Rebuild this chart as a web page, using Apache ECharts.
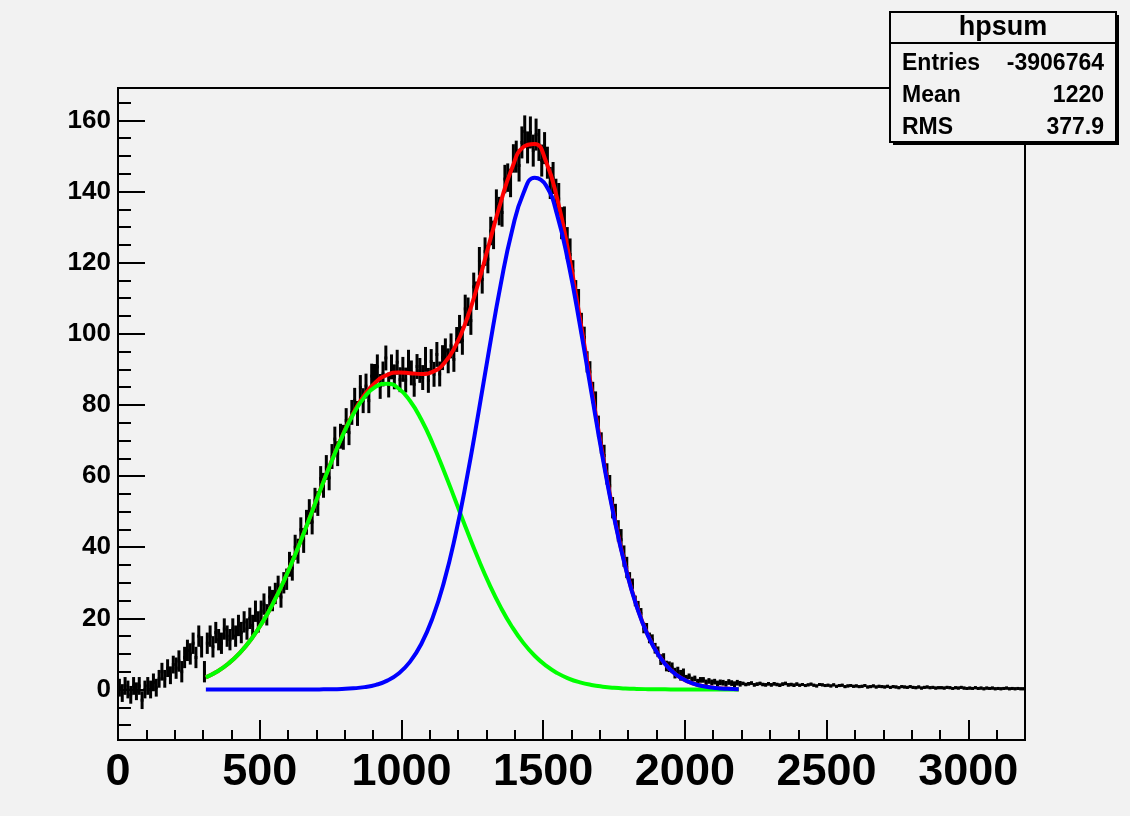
<!DOCTYPE html>
<html>
<head>
<meta charset="utf-8">
<script src="https://cdn.jsdelivr.net/npm/echarts@6/dist/echarts.min.js"></script>
<style>
html,body{margin:0;padding:0;background:#f2f2f2;}
#chart{width:1130px;height:816px;}
</style>
</head>
<body>
<div id="chart"></div>
<script>
// ---- histogram "hpsum": bins of width 10 starting at 0 ----
const BIN_START = 0;
const BIN_WIDTH = 10;
const COUNTS = [
0.5,-1.0,1.0,0.0,-1.5,1.0,-0.5,1.0,-3.0,0.0,
1.0,0.0,2.0,0.5,3.0,5.0,3.0,6.0,4.0,7.0,
6.0,8.0,5.0,9.0,11.0,10.0,13.0,9.0,15.0,12.0,
5.0,13.0,15.0,12.0,16.0,14.0,13.0,17.0,15.0,14.0,
17.0,15.0,18.0,16.0,19.0,17.0,20.0,18.0,22.0,19.0,
22.0,24.0,21.0,26.0,25.0,27.0,29.0,26.0,30.0,31.0,
35.2,34.1,40.0,38.9,44.9,41.9,47.0,50.0,47.1,53.2,
52.3,59.3,57.4,62.4,59.5,65.5,70.4,66.3,71.2,70.9,
75.6,72.2,77.9,81.3,77.6,84.9,81.2,85.3,81.2,88.1,
88.0,90.7,85.2,88.7,93.2,85.6,90.7,87.9,92.0,87.1,
90.0,87.0,92.0,89.0,85.8,90.8,89.7,87.7,92.8,86.9,
92.2,88.6,94.2,88.7,93.3,95.2,92.4,96.6,92.8,98.4,
101.3,98.1,107.0,106.2,103.7,113.2,110.7,120.4,115.3,123.1,
121.0,128.9,127.8,136.6,134.5,134.1,143.5,143.9,142.4,149.3,
149.8,147.3,153.8,156.9,152.4,156.6,151.5,156.0,153.1,148.7,
152.2,148.1,142.4,143.8,139.1,137.9,131.1,131.3,125.5,122.3,
117.7,112.1,109.6,102.9,99.0,92.1,89.3,83.5,80.8,74.0,
69.3,65.8,60.6,57.3,51.1,49.2,44.6,42.1,37.5,34.3,
31.5,29.7,24.9,23.4,21.4,17.3,17.2,14.5,14.0,11.6,
10.6,8.4,8.7,6.6,6.4,6.1,4.6,4.9,4.0,4.4,
3.3,3.7,2.8,3.1,2.2,2.7,2.7,2.0,2.4,2.0,
2.2,1.7,2.0,1.9,1.6,2.1,1.8,1.5,1.9,1.6,
1.7,1.4,1.6,1.8,1.3,1.5,1.7,1.4,1.3,1.6,
1.3,1.6,1.4,1.2,1.5,1.7,1.3,1.4,1.2,1.5,
1.2,1.4,1.1,1.3,1.5,1.2,1.0,1.4,1.3,1.1,
1.2,1.0,1.3,0.9,1.1,1.2,0.8,1.0,1.1,0.9,
1.0,0.8,0.9,1.1,0.7,0.8,1.0,0.7,0.9,0.8,
0.7,0.9,0.6,0.8,0.7,0.5,0.8,0.7,0.6,0.8,
0.6,0.5,0.7,0.4,0.6,0.7,0.5,0.6,0.4,0.5,
0.5,0.4,0.6,0.5,0.3,0.5,0.4,0.6,0.4,0.3,
0.4,0.3,0.5,0.3,0.4,0.2,0.4,0.3,0.4,0.2,
0.3,0.2,0.3,0.4,0.2,0.3,0.2,0.3,0.2,0.2
];
// bin errors, read per 200-unit block
const ERR_BLOCK = 200;
const ERRORS = [2.5,3.0,3.0,3.5,3.5,3.5,4.0,4.5,3.0,1.5,0.8,0.5,0.4,0.4,0.4,0.4];

// ---- fit curves (read at x = 310, 350, ..., 2190) ----
const CURVE_X = [310,350,390,430,470,510,550,590,630,670,710,750,790,830,870,910,950,990,1030,1070,1110,1150,1190,1230,1270,1310,1350,1390,1430,1470,1510,1550,1590,1630,1670,1710,1750,1790,1830,1870,1910,1950,1990,2030,2070,2110,2150,2190];
const RED = [3.41,5.06,7.32,10.30,14.14,18.93,24.68,31.38,38.88,46.97,55.32,63.51,71.11,77.69,82.88,86.47,88.47,89.12,88.94,88.69,89.30,91.64,96.44,103.96,113.94,125.44,136.92,146.56,152.53,153.38,148.42,137.81,122.57,104.30,84.84,65.95,48.95,34.69,23.48,15.17,9.36,5.51,3.09,1.66,0.85,0.41,0.19,0.09];
const GREEN = [3.41,5.06,7.32,10.30,14.14,18.93,24.68,31.38,38.88,46.96,55.29,63.45,70.96,77.37,82.22,85.16,85.98,84.62,81.17,75.89,69.17,61.45,53.21,44.90,36.94,29.62,23.15,17.64,13.10,9.48,6.69,4.60,3.08,2.01,1.28,0.80,0.48,0.28,0.16,0.09,0.05,0.03,0.01,0.01,0,0,0,0];
const BLUE = [0,0,0,0,0,0,0,0,0,0.01,0.03,0.06,0.15,0.32,0.66,1.31,2.49,4.50,7.77,12.80,20.13,30.19,43.23,59.06,77.00,95.82,113.77,128.92,139.43,143.90,141.73,133.21,119.49,102.29,83.56,65.15,48.47,34.41,23.32,15.08,9.31,5.48,3.08,1.65,0.85,0.41,0.19,0.09];

// ---- axes ----
const X_MIN = 0, X_MAX = 3200;
const Y_MIN = -14.2, Y_MAX = 169.1;
const X_MAJOR = [0,500,1000,1500,2000,2500,3000];
const X_MINOR = [0,100,200,300,400,500,600,700,800,900,1000,1100,1200,1300,1400,1500,1600,1700,1800,1900,2000,2100,2200,2300,2400,2500,2600,2700,2800,2900,3000,3100,3200];
const Y_MAJOR = [0,20,40,60,80,100,120,140,160];
const Y_MINOR = [-10,-5,0,5,10,15,20,25,30,35,40,45,50,55,60,65,70,75,80,85,90,95,100,105,110,115,120,125,130,135,140,145,150,155,160,165];

// ---- statistics box ----
const STATS_TITLE = 'hpsum';
const STATS_ROWS = [['Entries','-3906764'],['Mean','1220'],['RMS','377.9']];

const FONT = '"Liberation Sans", Arial, Helvetica, sans-serif';

const histData = COUNTS.map((v, i) => {
  const x0 = BIN_START + i * BIN_WIDTH;
  const x1 = x0 + BIN_WIDTH;
  const e = ERRORS[Math.min(ERRORS.length - 1, Math.floor(x0 / ERR_BLOCK))];
  return [x0, x1, v, e];
});
const pairs = arr => CURVE_X.map((x, i) => [x, arr[i]]);

const chart = echarts.init(document.getElementById('chart'), null, {renderer: 'canvas'});

const grid = {left: 118, top: 88, width: 907, height: 652, show: true, borderColor: '#000', borderWidth: 2, backgroundColor: 'transparent'};

const statsGraphics = [];
const bx = 890, by = 12, bw = 226, bh = 130;
statsGraphics.push({type: 'rect', shape: {x: bx + 3, y: by + 3, width: bw, height: bh}, style: {fill: '#000'}, z: 100});
statsGraphics.push({type: 'rect', shape: {x: bx, y: by, width: bw, height: bh}, style: {fill: '#f2f2f2', stroke: '#000', lineWidth: 2}, z: 101});
statsGraphics.push({type: 'line', shape: {x1: bx, y1: 43, x2: bx + bw, y2: 43}, style: {stroke: '#000', lineWidth: 2}, z: 102});
statsGraphics.push({type: 'text', x: bx + bw / 2, y: 28, style: {text: STATS_TITLE, fill: '#000', font: 'bold 27px ' + FONT, textAlign: 'center', textVerticalAlign: 'middle'}, z: 103});
STATS_ROWS.forEach((r, i) => {
  const y = 64 + i * 31.7;
  statsGraphics.push({type: 'text', x: 902, y: y, style: {text: r[0], fill: '#000', font: 'bold 23px ' + FONT, textAlign: 'left', textVerticalAlign: 'middle'}, z: 103});
  statsGraphics.push({type: 'text', x: 1104, y: y, style: {text: r[1], fill: '#000', font: 'bold 23px ' + FONT, textAlign: 'right', textVerticalAlign: 'middle'}, z: 103});
});

const plain = v => String(v);

const option = {
  backgroundColor: '#f2f2f2',
  animation: false,
  grid: grid,
  xAxis: [
    {
      type: 'value', min: X_MIN, max: X_MAX, position: 'bottom',
      axisLine: {show: true, onZero: false, lineStyle: {color: '#000', width: 2}},
      axisTick: {show: true, inside: true, length: 20, customValues: X_MAJOR, lineStyle: {color: '#000', width: 2}},
      axisLabel: {show: true, customValues: X_MAJOR, formatter: plain, margin: 10, color: '#000', fontSize: 45, fontWeight: 'bold', fontFamily: FONT},
      splitLine: {show: false}
    },
    {
      type: 'value', min: X_MIN, max: X_MAX, position: 'bottom',
      axisLine: {show: false, onZero: false},
      axisTick: {show: true, inside: true, length: 10, customValues: X_MINOR, lineStyle: {color: '#000', width: 2}},
      axisLabel: {show: false},
      splitLine: {show: false}
    }
  ],
  yAxis: [
    {
      type: 'value', min: Y_MIN, max: Y_MAX, position: 'left',
      axisLine: {show: true, onZero: false, lineStyle: {color: '#000', width: 2}},
      axisTick: {show: true, inside: true, length: 27, customValues: Y_MAJOR, lineStyle: {color: '#000', width: 2}},
      axisLabel: {show: true, customValues: Y_MAJOR, formatter: plain, margin: 7, color: '#000', fontSize: 26, fontWeight: 'bold', fontFamily: FONT},
      splitLine: {show: false}
    },
    {
      type: 'value', min: Y_MIN, max: Y_MAX, position: 'left',
      axisLine: {show: false, onZero: false},
      axisTick: {show: true, inside: true, length: 13, customValues: Y_MINOR, lineStyle: {color: '#000', width: 2}},
      axisLabel: {show: false},
      splitLine: {show: false}
    }
  ],
  graphic: statsGraphics,
  series: [
    {
      type: 'custom', name: 'hpsum', xAxisIndex: 0, yAxisIndex: 0, z: 2,
      encode: {x: [0, 1], y: 2},
      data: histData,
      clip: true,
      renderItem: function (params, api) {
        const x0 = api.value(0), x1 = api.value(1), v = api.value(2), e = api.value(3);
        const pL = api.coord([x0, v]), pR = api.coord([x1, v]);
        const xc = (x0 + x1) / 2;
        const pT = api.coord([xc, v + e]), pB = api.coord([xc, v - e]);
        return {type: 'group', children: [
          {type: 'line', shape: {x1: pL[0], y1: pL[1], x2: pR[0], y2: pR[1]}, style: {stroke: '#000', lineWidth: 3}},
          {type: 'line', shape: {x1: pT[0], y1: pT[1], x2: pB[0], y2: pB[1]}, style: {stroke: '#000', lineWidth: 3}}
        ]};
      }
    },
    {type: 'line', name: 'total', data: pairs(RED), smooth: true, showSymbol: false, z: 3, lineStyle: {color: '#ff0000', width: 4}},
    {type: 'line', name: 'g1', data: pairs(GREEN), smooth: true, showSymbol: false, z: 4, lineStyle: {color: '#00ff00', width: 4}},
    {type: 'line', name: 'g2', data: pairs(BLUE), smooth: true, showSymbol: false, z: 5, lineStyle: {color: '#0000ff', width: 4}}
  ]
};
chart.setOption(option);
</script>
</body>
</html>
